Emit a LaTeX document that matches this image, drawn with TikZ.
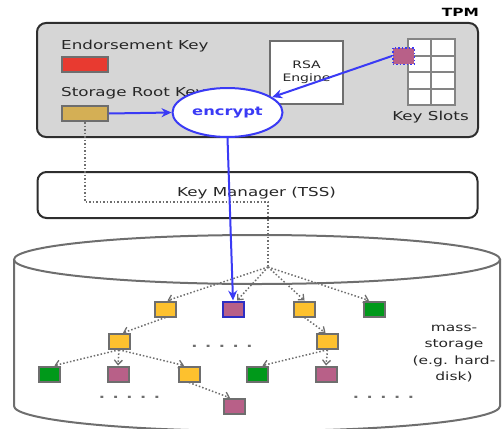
\documentclass[tikz,border=0pt]{standalone}
\usepackage{fontspec}
\setmainfont{DejaVu Sans}[FakeStretch=1.36]
\usetikzlibrary{arrows.meta,shapes.geometric}

\definecolor{tpmgray}{HTML}{D6D6D6}
\definecolor{keyred}{HTML}{E83A30}
\definecolor{srkgold}{HTML}{D4AF55}
\definecolor{slotpurple}{HTML}{B86088}
\definecolor{boxyellow}{HTML}{FDC12E}
\definecolor{boxgreen}{HTML}{00991A}
\definecolor{linegray}{HTML}{6E6E6E}
\definecolor{framegray}{HTML}{2E2E2E}
\definecolor{encblue}{HTML}{3A3AF5}

\tikzset{
  x=1pt, y=-1pt,
  label12/.style={font=\fontsize{12.3}{14}\selectfont, inner sep=0pt, text=black!85},
  panel/.style={draw=framegray, line width=2pt, rounded corners=9pt, inner sep=0pt},
  keybox/.style={draw=linegray, line width=2pt, minimum width=21pt, minimum height=15pt, inner sep=0pt},
  ykey/.style={keybox, fill=boxyellow},
  pkey/.style={keybox, fill=slotpurple},
  gkey/.style={keybox, fill=boxgreen},
  tree/.style={draw=linegray, line width=1.5pt, dotted, -{Straight Barb[length=4.5pt,width=8pt,line width=1.3pt]}},
  bluearrow/.style={draw=encblue, line width=2pt, -{Stealth[length=10pt,width=9pt]}},
  dots/.style={font=\fontsize{12}{14}\selectfont\bfseries, text=linegray, inner sep=0pt},
}

\begin{document}
\begin{tikzpicture}
\useasboundingbox (0,0) rectangle (502,428);

% ---- TPM chip ----
\node[panel, fill=tpmgray, minimum width=441pt, minimum height=114pt] (tpm) at (257.5,80) {};
\node[font=\fontsize{11.3}{13}\selectfont\bfseries, inner sep=0pt] (tpmlabel) at (460.5,12) {TPM};

\node[label12, anchor=west] (ektext) at (61,46) {Endorsement Key};
\node[draw=linegray, line width=2pt, fill=keyred, minimum width=46pt, minimum height=15pt, inner sep=0pt] (ek) at (85,64.5) {};

\node[label12, anchor=west] (srktext) at (61,93) {Storage Root Key};
\node[draw=linegray, line width=2pt, fill=srkgold, minimum width=46pt, minimum height=15pt, inner sep=0pt] (srk) at (85,113.5) {};

% RSA engine
\node[draw=linegray, line width=2pt, fill=white, minimum width=73pt, minimum height=63pt, inner sep=0pt] (rsa) at (306.5,72.5) {};
\node[font=\fontsize{10.3}{13}\selectfont, align=center, inner sep=0pt, text=black!85] (rsatext) at (306.5,72) {RSA\\Engine};

% key slot table
\foreach \c in {0,1}{
  \foreach \r in {0,1,2,3}{
    \node[draw=linegray!85, line width=2pt, fill=white, minimum width=23.6pt, minimum height=16.4pt, inner sep=0pt]
      (slot\c\r) at ({419.5+\c*23.6},{47.5+\r*16.4}) {};
  }
}
\node[label12] (slotstext) at (430.5,117) {Key Slots};
\node[draw=encblue, dotted, line width=1.5pt, fill=slotpurple, minimum width=21.5pt, minimum height=16.5pt, inner sep=0pt] (loaded) at (403.5,56) {};

% encryption unit
\node[ellipse, draw=encblue, line width=2pt, fill=white, minimum width=110pt, minimum height=49pt, inner sep=0pt,
      font=\fontsize{12}{14}\selectfont\bfseries, text=encblue] (encrypt) at (227.5,112.5) {encrypt};

\draw[bluearrow] (srk.east) -- (encrypt.west);
\draw[bluearrow] (loaded.west) -- (encrypt);

% ---- key manager ----
\node[panel, fill=white, minimum width=440pt, minimum height=46pt] (tss) at (257.5,195) {};
\node[label12] (tsstext) at (256.5,193) {Key Manager (TSS)};

% ---- mass storage cylinder ----
\draw[draw=linegray, line width=2pt]
  (14,259.5) -- (14,406) arc[start angle=180, end angle=360, x radius=243pt, y radius=25pt] -- (500,259.5);
\draw[draw=linegray, line width=2pt] (257,259.5) ellipse [x radius=243pt, y radius=24.5pt];

\node[font=\fontsize{11.4}{16.4}\selectfont, align=center, inner sep=0pt, text=black!85] (storetext) at (454,353.5)
  {mass-\\storage\\(e.g. hard-\\disk)};

% stored key blobs
\node[ykey] (ka) at (165.5,309) {};
\node[pkey, draw=encblue!80!black] (kb) at (233,309) {};
\node[ykey] (kc) at (304.5,309) {};
\node[gkey] (kd) at (374,309) {};
\node[ykey] (ke) at (119,341.3) {};
\node[ykey] (kf) at (327.5,341.3) {};
\node[gkey] (kg) at (49.5,374) {};
\node[pkey] (kh) at (118,374) {};
\node[ykey] (ki) at (189,374) {};
\node[gkey] (kj) at (257.5,374) {};
\node[pkey] (kk) at (326,374) {};
\node[pkey] (kl) at (234,406.3) {};

\node[dots] (dotsmid) at (222,346) {. . . . .};
\node[dots] (dotsleft) at (129.5,397) {. . . . .};
\node[dots] (dotsright) at (383.5,397) {. . . . .};

% key hierarchy below the storage root key
\coordinate (bend) at (268,202);
\coordinate (hub) at (268,267);
\draw[draw=linegray, line width=1.5pt, dotted] (srk.south) |- (bend) -- (hub);

\draw[tree] (hub) -- ([xshift=2pt]ka.north);
\draw[tree] (hub) -- ([xshift=4pt]kb.north);
\draw[tree] (hub) -- (kc.north);
\draw[tree] (hub) -- ([xshift=-5pt]kd.north);
\draw[tree] (ka.south) -- ([xshift=4pt]ke.north);
\draw[tree] (kc.south) -- ([xshift=-2pt]kf.north);
\draw[tree] (ke.south) -- ([xshift=5pt]kg.north);
\draw[tree] (ke.south) -- (kh.north);
\draw[tree] (ke.south) -- ([xshift=-5pt]ki.north);
\draw[tree] (kf.south) -- ([xshift=5pt]kj.north);
\draw[tree] (kf.south) -- (kk.north);
\draw[tree] (ki.south) -- ([xshift=-4pt]kl.north);

% encrypted key written to storage
\draw[bluearrow] (encrypt.south) -- (kb.north);
\end{tikzpicture}
\end{document}
